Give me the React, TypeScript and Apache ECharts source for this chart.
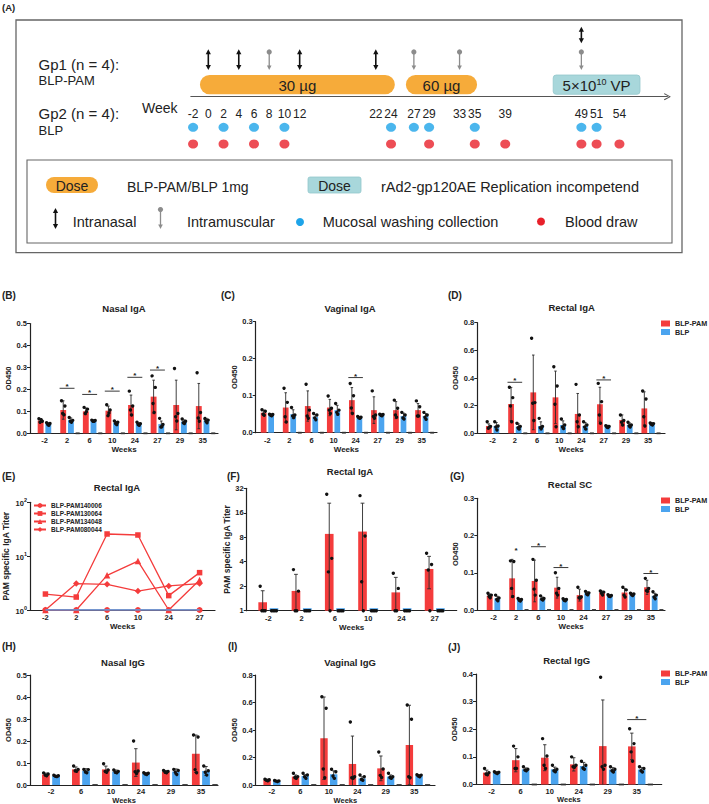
import React, { useEffect, useRef } from 'react';
import * as echarts from 'echarts';

const FONT = '"Liberation Sans", Arial, Helvetica, sans-serif';
const RED = '#f43c3c';
const BLUE = '#4ba4ef';
const INK = '#222';
const ORANGE = '#f6ab3a';
const TEAL = '#a8d7db';
const DOT_BLUE = '#1ea4e9';
const DOT_RED = '#e8202a';
const GREY_ARROW = '#8c8c8c';

// ---------------- Panel A: schedule ----------------
const timelineWeeks = [-2, 0, 2, 4, 6, 8, 10, 12, 22, 24, 27, 29, 33, 35, 39, 49, 51, 54];
const mucosalWeeks = [-2, 2, 6, 10, 24, 27, 29, 35, 49, 51];
const bloodWeeks = [-2, 2, 6, 10, 24, 29, 35, 39, 49, 51, 54];
const intranasalWeeks = [0, 4, 12, 22];
const intranasalBoostWeeks = [49];
const intramuscularWeeks = [8, 27, 33, 49];
const doseNames = ['30 µg', '60 µg', '5×10{s|10} VP'];
const doseKinds = ['protein', 'protein', 'vector'];
const doseStartWeeks = [-1.1, 25.95, 45.3];
const doseEndWeeks = [24.5, 35.3, 56.7];

// ---------------- (B) Nasal IgA ----------------
const nasalIgAWeeks = ['-2', '2', '6', '10', '24', '27', '29', '35'];
const nasalIgARedMean = [0.058, 0.106, 0.1, 0.103, 0.129, 0.167, 0.129, 0.124];
const nasalIgARedSD = [0.008, 0.042, 0.015, 0.021, 0.045, 0.075, 0.113, 0.103];
const nasalIgARedDots = [[0.066, 0.055, 0.05, 0.062], [0.148, 0.124, 0.09, 0.088], [0.118, 0.11, 0.09, 0.098], [0.13, 0.106, 0.083, 0.092], [0.192, 0.124, 0.106, 0.083], [0.265, 0.209, 0.136, 0.095], [0.295, 0.09, 0.075, 0.056], [0.276, 0.095, 0.07, 0.055]];
const nasalIgABlueMean = [0.042, 0.06, 0.057, 0.048, 0.042, 0.042, 0.053, 0.058];
const nasalIgABlueSD = [0.006, 0.01, 0.004, 0.006, 0.006, 0.014, 0.008, 0.01];
const nasalIgABlueDots = [[0.048, 0.045, 0.04, 0.036], [0.072, 0.062, 0.055, 0.05], [0.06, 0.058, 0.055, 0.055], [0.056, 0.05, 0.045, 0.042], [0.05, 0.044, 0.04, 0.036], [0.068, 0.04, 0.032, 0.03], [0.065, 0.055, 0.048, 0.045], [0.07, 0.06, 0.055, 0.048]];
const nasalIgAStarWeeks = ['2', '6', '10', '24', '27'];
const nasalIgAStarLevels = [0.205, 0.177, 0.192, 0.255, 0.288];
const nasalIgAStarLines = [true, true, true, true, true];

// ---------------- (C) Vaginal IgA ----------------
const vaginalIgAWeeks = ['-2', '2', '6', '10', '24', '27', '29', '35'];
const vaginalIgARedMean = [0.054, 0.068, 0.072, 0.068, 0.088, 0.061, 0.061, 0.061];
const vaginalIgARedSD = [0.007, 0.04, 0.041, 0.022, 0.034, 0.036, 0.023, 0.018];
const vaginalIgARedDots = [[0.062, 0.058, 0.05, 0.047], [0.12, 0.082, 0.043, 0.029], [0.131, 0.061, 0.045, 0.039], [0.099, 0.066, 0.061, 0.052], [0.133, 0.1, 0.067, 0.052], [0.113, 0.048, 0.044, 0.039], [0.088, 0.066, 0.048, 0.042], [0.086, 0.07, 0.045, 0.045]];
const vaginalIgABlueMean = [0.048, 0.05, 0.043, 0.061, 0.041, 0.048, 0.045, 0.045];
const vaginalIgABlueSD = [0.003, 0.012, 0.006, 0.013, 0.003, 0.003, 0.008, 0.007];
const vaginalIgABlueDots = [[0.05, 0.049, 0.047, 0.046], [0.068, 0.048, 0.045, 0.041], [0.052, 0.048, 0.04, 0.035], [0.079, 0.061, 0.055, 0.05], [0.044, 0.042, 0.04, 0.039], [0.05, 0.049, 0.047, 0.046], [0.055, 0.048, 0.04, 0.037], [0.055, 0.048, 0.042, 0.036]];
const vaginalIgAStarWeeks = ['24'];
const vaginalIgAStarLevels = [0.149];
const vaginalIgAStarLines = [true];

// ---------------- (D) Rectal IgA ----------------
const rectalIgAWeeks = ['-2', '2', '6', '10', '24', '27', '29', '35'];
const rectalIgARedMean = [0.053, 0.212, 0.296, 0.26, 0.14, 0.21, 0.096, 0.18];
const rectalIgARedSD = [0.015, 0.12, 0.27, 0.19, 0.148, 0.123, 0.037, 0.12];
const rectalIgARedDots = [[0.084, 0.05, 0.037, 0.042], [0.333, 0.258, 0.198, 0.084], [0.687, 0.222, 0.217, 0.092], [0.482, 0.342, 0.21, 0.048], [0.354, 0.133, 0.084, 0.048], [0.361, 0.229, 0.133, 0.072], [0.133, 0.092, 0.08, 0.06], [0.306, 0.248, 0.12, 0.053]];
const rectalIgABlueMean = [0.053, 0.048, 0.053, 0.06, 0.053, 0.048, 0.06, 0.067];
const rectalIgABlueSD = [0.025, 0.02, 0.03, 0.03, 0.025, 0.01, 0.015, 0.01];
const rectalIgABlueDots = [[0.084, 0.053, 0.045, 0.024], [0.072, 0.05, 0.04, 0.03], [0.108, 0.05, 0.04, 0.035], [0.104, 0.06, 0.045, 0.035], [0.084, 0.06, 0.045, 0.03], [0.055, 0.05, 0.045, 0.042], [0.08, 0.06, 0.055, 0.045], [0.075, 0.07, 0.065, 0.06]];
const rectalIgAStarWeeks = ['2', '27'];
const rectalIgAStarLevels = [0.369, 0.386];
const rectalIgAStarLines = [true, true];

// ---------------- (E) Rectal IgA titers per animal ----------------
const titerWeeks = ['-2', '2', '6', '10', '24', '27'];
const titerPAM140006 = [1, 1, 1, 1, 1, 1];
const titerPAM130064 = [1.98, 1.74, 25.8, 24.7, 1.85, 4.94];
const titerPAM134048 = [1, 1, 4.4, 8.1, 1, 3.6];
const titerPAM080044 = [1, 3.1, 3.0, 2.25, 2.8, 3.1];
const titerBLP = [1, 1, 1, 1, 1, 1];

// ---------------- (F) Rectal IgA titer ----------------
const titerBarWeeks = ['-2', '2', '6', '10', '24', '27'];
const titerRedMean = [1.27, 1.75, 8.8, 9.4, 1.68, 3.26];
const titerRedSD = [0.49, 1.05, 12.2, 11.6, 0.89, 1.4];
const titerRedDots = [[2, 1, 1, 1], [3.2, 1.74, 1, 1], [27, 4.4, 3, 1], [26, 8.3, 2.27, 1], [2.88, 1.88, 1, 1], [5.08, 3.7, 3.16, 1]];
const titerBlueMean = [1, 1, 1, 1, 1, 1];
const titerBlueSD = [0, 0, 0, 0, 0, 0];
const titerBlueDots = [[1, 1, 1, 1], [1, 1, 1, 1], [1, 1, 1, 1], [1, 1, 1, 1], [1, 1, 1, 1], [1, 1, 1, 1]];

// ---------------- (G) Rectal SC ----------------
const rectalSCWeeks = ['-2', '2', '6', '10', '24', '27', '29', '35'];
const rectalSCRedMean = [0.038, 0.085, 0.078, 0.06, 0.04, 0.047, 0.047, 0.061];
const rectalSCRedSD = [0.005, 0.051, 0.056, 0.028, 0.016, 0.004, 0.011, 0.019];
const rectalSCRedDots = [[0.045, 0.04, 0.037, 0.033], [0.132, 0.13, 0.058, 0.036], [0.136, 0.08, 0.056, 0.04], [0.1, 0.058, 0.045, 0.04], [0.061, 0.035, 0.033, 0.032], [0.051, 0.048, 0.045, 0.04], [0.061, 0.054, 0.04, 0.035], [0.085, 0.058, 0.052, 0.05]];
const rectalSCBlueMean = [0.031, 0.027, 0.031, 0.027, 0.045, 0.038, 0.042, 0.038];
const rectalSCBlueSD = [0.006, 0.003, 0.004, 0.003, 0.004, 0.003, 0.003, 0.007];
const rectalSCBlueDots = [[0.04, 0.032, 0.028, 0.025], [0.031, 0.028, 0.026, 0.024], [0.038, 0.031, 0.029, 0.027], [0.03, 0.028, 0.026, 0.025], [0.05, 0.046, 0.043, 0.041], [0.041, 0.039, 0.037, 0.036], [0.045, 0.043, 0.041, 0.039], [0.049, 0.04, 0.035, 0.03]];
const rectalSCStarWeeks = ['2', '6', '10', '35'];
const rectalSCStarLevels = [0.157, 0.17, 0.114, 0.098];
const rectalSCStarLines = [false, true, true, true];

// ---------------- (H) Nasal IgG ----------------
const nasalIgGWeeks = ['-2', '6', '10', '24', '29', '35'];
const nasalIgGRedMean = [0.048, 0.071, 0.071, 0.102, 0.061, 0.142];
const nasalIgGRedSD = [0.006, 0.011, 0.015, 0.063, 0.005, 0.085];
const nasalIgGRedDots = [[0.055, 0.05, 0.045, 0.042], [0.086, 0.071, 0.065, 0.062], [0.097, 0.068, 0.062, 0.058], [0.2, 0.064, 0.06, 0.052], [0.066, 0.062, 0.058, 0.056], [0.227, 0.218, 0.07, 0.056]];
const nasalIgGBlueMean = [0.041, 0.064, 0.061, 0.052, 0.061, 0.064];
const nasalIgGBlueSD = [0.003, 0.01, 0.007, 0.004, 0.012, 0.02];
const nasalIgGBlueDots = [[0.044, 0.042, 0.04, 0.038], [0.071, 0.07, 0.06, 0.056], [0.068, 0.062, 0.058, 0.055], [0.056, 0.053, 0.05, 0.048], [0.071, 0.066, 0.058, 0.048], [0.086, 0.065, 0.058, 0.045]];

// ---------------- (I) Vaginal IgG ----------------
const vaginalIgGWeeks = ['-2', '6', '10', '24', '29', '35'];
const vaginalIgGRedMean = [0.036, 0.061, 0.34, 0.153, 0.121, 0.291];
const vaginalIgGRedSD = [0.006, 0.012, 0.3, 0.203, 0.09, 0.289];
const vaginalIgGRedDots = [[0.042, 0.038, 0.035, 0.03], [0.085, 0.061, 0.055, 0.048], [0.642, 0.558, 0.116, 0.053], [0.458, 0.06, 0.053, 0.048], [0.24, 0.116, 0.07, 0.055], [0.582, 0.478, 0.06, 0.053]];
const vaginalIgGBlueMean = [0.029, 0.065, 0.078, 0.048, 0.061, 0.068];
const vaginalIgGBlueSD = [0.004, 0.01, 0.025, 0.012, 0.012, 0.008];
const vaginalIgGBlueDots = [[0.033, 0.03, 0.028, 0.026], [0.085, 0.073, 0.06, 0.048], [0.114, 0.097, 0.065, 0.048], [0.073, 0.06, 0.04, 0.035], [0.085, 0.06, 0.055, 0.048], [0.075, 0.072, 0.065, 0.06]];

// ---------------- (J) Rectal IgG ----------------
const rectalIgGWeeks = ['-2', '6', '10', '24', '29', '35'];
const rectalIgGRedMean = [0.043, 0.088, 0.097, 0.073, 0.139, 0.138];
const rectalIgGRedSD = [0.009, 0.042, 0.047, 0.024, 0.167, 0.048];
const rectalIgGRedDots = [[0.058, 0.043, 0.038, 0.035], [0.139, 0.1, 0.058, 0.058], [0.166, 0.103, 0.07, 0.058], [0.1, 0.07, 0.064, 0.062], [0.388, 0.07, 0.064, 0.055], [0.202, 0.148, 0.118, 0.084]];
const rectalIgGBlueMean = [0.043, 0.055, 0.055, 0.067, 0.054, 0.054];
const rectalIgGBlueSD = [0.003, 0.005, 0.008, 0.013, 0.007, 0.007];
const rectalIgGBlueDots = [[0.046, 0.044, 0.042, 0.04], [0.064, 0.055, 0.052, 0.05], [0.07, 0.055, 0.05, 0.046], [0.084, 0.07, 0.06, 0.055], [0.064, 0.055, 0.05, 0.045], [0.064, 0.058, 0.05, 0.045]];
const rectalIgGStarWeeks = ['35'];
const rectalIgGStarLevels = [0.235];
const rectalIgGStarLines = [true];

// ---------------- layout constants (pixels / row positions) ----------------
const ROW_BLUE = -3.06;
const ROW_RED = -4.73;
const ARROW_LOW = 2.67;
const ARROW_HIGH = 4.74;
const BOOST_LOW = 5.34;
const BOOST_HIGH = 7.0;
const DOSE_LOW = 0.24;
const DOSE_HIGH = 2.17;
const CHEVRON = 'path://M0,9L5,0L10,9L8.8,10L5,2.6L1.2,10Z';
const DOT_OFFSETS = [-0.075, 0.075, -0.025, 0.025];

const lbl = { fontSize: 7.5, fontWeight: 'bold', color: INK, fontFamily: FONT };

function doubleArrow(x: number, yTop: number, yBot: number, color: string) {
  const hw = 2.6, hl = 5;
  return {
    type: 'group',
    children: [
      { type: 'line', shape: { x1: x, y1: yTop + hl - 1, x2: x, y2: yBot - hl + 1 }, style: { stroke: color, lineWidth: 1.6 } },
      { type: 'polygon', shape: { points: [[x, yTop], [x - hw, yTop + hl], [x + hw, yTop + hl]] }, style: { fill: color } },
      { type: 'polygon', shape: { points: [[x, yBot], [x - hw, yBot - hl], [x + hw, yBot - hl]] }, style: { fill: color } },
    ],
  };
}
function imArrow(x: number, yTop: number, yBot: number, color: string) {
  const hw = 2.3, hl = 4.5, r = 2.6;
  return {
    type: 'group',
    children: [
      { type: 'line', shape: { x1: x, y1: yTop + r, x2: x, y2: yBot - hl + 1 }, style: { stroke: color, lineWidth: 1.3 } },
      { type: 'circle', shape: { cx: x, cy: yTop + r, r }, style: { fill: color } },
      { type: 'polygon', shape: { points: [[x, yBot], [x - hw, yBot - hl], [x + hw, yBot - hl]] }, style: { fill: color } },
    ],
  };
}

function barRender(isRed: boolean, base: number, minH: number, dash: boolean) {
  const L = isRed ? -0.3 : 0.04;
  const R = isRed ? -0.04 : 0.3;
  const C = (L + R) / 2;
  const fill = isRed ? RED : BLUE;
  return (params: any, api: any) => {
    const i = api.value(0), m = api.value(1), sd = api.value(2);
    const pb = api.coord([i + L, base]);
    const pt = api.coord([i + R, m]);
    const w = pt[0] - pb[0];
    const h = Math.max(pb[1] - pt[1], minH);
    const children: any[] = [{ type: 'rect', shape: { x: pb[0], y: pb[1] - h, width: w, height: h }, style: { fill } }];
    const cx = (pb[0] + pt[0]) / 2;
    const ln = { stroke: '#2b2b2b', lineWidth: 0.9 };
    if (sd > 0) {
      const ty = api.coord([i, m + sd])[1];
      const low = m - sd;
      const by = low > base ? api.coord([i, low])[1] : pb[1];
      const cw = w * 0.22;
      children.push({ type: 'line', shape: { x1: cx, y1: ty, x2: cx, y2: by }, style: ln });
      children.push({ type: 'line', shape: { x1: cx - cw, y1: ty, x2: cx + cw, y2: ty }, style: ln });
      if (low > base) children.push({ type: 'line', shape: { x1: cx - cw, y1: by, x2: cx + cw, y2: by }, style: ln });
    }
    for (let k = 0; k < 4; k++) {
      const v = api.value(3 + k);
      if (v == null || isNaN(v)) continue;
      const p = api.coord([i + C + DOT_OFFSETS[k], v]);
      children.push({ type: 'circle', shape: { cx: p[0], cy: p[1], r: 1.7 }, style: { fill: '#111' } });
    }
    if (dash && !isRed && i > 0) {
      const a = api.coord([i + 0.38, base]);
      const b = api.coord([i + 0.56, base]);
      children.push({ type: 'line', shape: { x1: a[0], y1: a[1], x2: b[0], y2: b[1] }, style: { stroke: '#333', lineWidth: 1.8 } });
    }
    return { type: 'group', children };
  };
}

function starRender(params: any, api: any) {
  const i = api.value(0), lvl = api.value(1), line = api.value(2);
  const a = api.coord([i - 0.33, lvl]);
  const b = api.coord([i + 0.33, lvl]);
  const c = api.coord([i, lvl]);
  const ch: any[] = [];
  if (line) ch.push({ type: 'line', shape: { x1: a[0], y1: a[1], x2: b[0], y2: b[1] }, style: { stroke: '#222', lineWidth: 0.9 } });
  ch.push({ type: 'text', x: c[0], y: c[1] + 2.5, style: { text: '*', fontSize: 8, fontWeight: 'bold', fontFamily: FONT, fill: '#222', align: 'center', verticalAlign: 'bottom' } });
  return { type: 'group', children: ch };
}

function buildOption() {
  const grids: any[] = [];
  const xAxes: any[] = [];
  const yAxes: any[] = [];
  const series: any[] = [];

  // ---- timeline (panel A) ----
  grids.push({ left: 190.8, top: 25.7, width: 476.6, height: 71, containLabel: false, outerBoundsMode: 'none' });
  xAxes.push({
    type: 'value', gridIndex: 0, min: -2.3, max: 60.3,
    axisLine: { show: true, onZero: false, lineStyle: { color: '#555', width: 1 }, symbol: ['none', CHEVRON], symbolSize: [8, 7] },
    axisTick: { show: false }, splitLine: { show: false },
    axisLabel: { customValues: timelineWeeks, formatter: (v: number) => String(v), fontSize: 12, color: INK, margin: 11.5, fontFamily: FONT },
  });
  yAxes.push({ type: 'value', gridIndex: 0, min: 0, max: 7.1, show: false });
  series.push({
    type: 'custom', name: 'dose', xAxisIndex: 0, yAxisIndex: 0, silent: true,
    data: doseStartWeeks.map((s, i) => [s, DOSE_LOW, doseEndWeeks[i], i]),
    renderItem: (params: any, api: any) => {
      const idx = params.dataIndex;
      const p0 = api.coord([api.value(0), DOSE_HIGH]);
      const p1 = api.coord([api.value(2), DOSE_LOW]);
      const h = p1[1] - p0[1];
      const vec = doseKinds[idx] === 'vector';
      return {
        type: 'group',
        children: [
          { type: 'rect', shape: { x: p0[0], y: p0[1], width: p1[0] - p0[0], height: h, r: vec ? 3 : h / 2 }, style: { fill: vec ? TEAL : ORANGE, stroke: vec ? '#93c6cb' : null, lineWidth: 0.8 } },
          {
            type: 'text', x: (p0[0] + p1[0]) / 2, y: p0[1] + h / 2 + 0.5,
            style: { text: doseNames[idx], fontSize: 15, fontFamily: FONT, fill: '#222', align: 'center', verticalAlign: 'middle', rich: { s: { fontSize: 9, fontFamily: FONT, fill: '#222', verticalAlign: 'top' } } },
          },
        ],
      };
    },
  });
  series.push({
    type: 'custom', name: 'intranasal', xAxisIndex: 0, yAxisIndex: 0, silent: true,
    data: intranasalWeeks.map((w) => [w, ARROW_LOW]),
    renderItem: (params: any, api: any) => {
      const t = api.coord([api.value(0), ARROW_HIGH]);
      const b = api.coord([api.value(0), ARROW_LOW]);
      return doubleArrow(t[0], t[1], b[1], '#111');
    },
  });
  series.push({
    type: 'custom', name: 'intranasal boost', xAxisIndex: 0, yAxisIndex: 0, silent: true,
    data: intranasalBoostWeeks.map((w) => [w, BOOST_LOW]),
    renderItem: (params: any, api: any) => {
      const t = api.coord([api.value(0), BOOST_HIGH]);
      const b = api.coord([api.value(0), BOOST_LOW]);
      return doubleArrow(t[0], t[1], b[1], '#111');
    },
  });
  series.push({
    type: 'custom', name: 'intramuscular', xAxisIndex: 0, yAxisIndex: 0, silent: true,
    data: intramuscularWeeks.map((w) => [w, ARROW_LOW]),
    renderItem: (params: any, api: any) => {
      const t = api.coord([api.value(0), ARROW_HIGH]);
      const b = api.coord([api.value(0), ARROW_LOW]);
      return imArrow(t[0], t[1], b[1], GREY_ARROW);
    },
  });
  series.push({ type: 'scatter', name: 'Mucosal washing collection', xAxisIndex: 0, yAxisIndex: 0, clip: false, silent: true, symbol: 'circle', symbolSize: [10, 9], itemStyle: { color: DOT_BLUE }, data: mucosalWeeks.map((w) => [w, ROW_BLUE]) });
  series.push({ type: 'scatter', name: 'Blood draw', xAxisIndex: 0, yAxisIndex: 0, clip: false, silent: true, symbol: 'circle', symbolSize: [10, 9], itemStyle: { color: DOT_RED }, data: bloodWeeks.map((w) => [w, ROW_RED]) });

  // ---- bar panels ----
  const panels = [
    { weeks: nasalIgAWeeks, rm: nasalIgARedMean, rs: nasalIgARedSD, rd: nasalIgARedDots, bm: nasalIgABlueMean, bs: nasalIgABlueSD, bd: nasalIgABlueDots, sw: nasalIgAStarWeeks, sl: nasalIgAStarLevels, sn: nasalIgAStarLines, grid: { left: 30, top: 323.5, width: 188, height: 109.8 }, xMin: -0.64, xMax: 7.68, yMax: 0.5, yInt: 0.1, log2: false, dash: true, bottomRow: false },
    { weeks: vaginalIgAWeeks, rm: vaginalIgARedMean, rs: vaginalIgARedSD, rd: vaginalIgARedDots, bm: vaginalIgABlueMean, bs: vaginalIgABlueSD, bd: vaginalIgABlueDots, sw: vaginalIgAStarWeeks, sl: vaginalIgAStarLevels, sn: vaginalIgAStarLines, grid: { left: 255.7, top: 321.7, width: 181.3, height: 111 }, xMin: -0.53, xMax: 7.69, yMax: 0.3, yInt: 0.1, log2: false, dash: true, bottomRow: false },
    { weeks: rectalIgAWeeks, rm: rectalIgARedMean, rs: rectalIgARedSD, rd: rectalIgARedDots, bm: rectalIgABlueMean, bs: rectalIgABlueSD, bd: rectalIgABlueDots, sw: rectalIgAStarWeeks, sl: rectalIgAStarLevels, sn: rectalIgAStarLines, grid: { left: 477.3, top: 322.7, width: 187.7, height: 110.6 }, xMin: -0.69, xMax: 7.76, yMax: 0.8, yInt: 0.2, log2: false, dash: true, bottomRow: false },
    { weeks: titerBarWeeks, rm: titerRedMean, rs: titerRedSD, rd: titerRedDots, bm: titerBlueMean, bs: titerBlueSD, bd: titerBlueDots, sw: [], sl: [], sn: [], grid: { left: 246.7, top: 488.3, width: 210, height: 122.4 }, xMin: -0.65, xMax: 5.66, yMax: 32, yInt: 0, log2: true, dash: false, bottomRow: false },
    { weeks: rectalSCWeeks, rm: rectalSCRedMean, rs: rectalSCRedSD, rd: rectalSCRedDots, bm: rectalSCBlueMean, bs: rectalSCBlueSD, bd: rectalSCBlueDots, sw: rectalSCStarWeeks, sl: rectalSCStarLevels, sn: rectalSCStarLines, grid: { left: 477.3, top: 498.3, width: 187.7, height: 111.7 }, xMin: -0.72, xMax: 7.63, yMax: 0.3, yInt: 0.1, log2: false, dash: true, bottomRow: false },
    { weeks: nasalIgGWeeks, rm: nasalIgGRedMean, rs: nasalIgGRedSD, rd: nasalIgGRedDots, bm: nasalIgGBlueMean, bs: nasalIgGBlueSD, bd: nasalIgGBlueDots, sw: [], sl: [], sn: [], grid: { left: 30, top: 675, width: 188, height: 110 }, xMin: -0.7, xMax: 5.57, yMax: 0.5, yInt: 0.1, log2: false, dash: true, bottomRow: true },
    { weeks: vaginalIgGWeeks, rm: vaginalIgGRedMean, rs: vaginalIgGRedSD, rd: vaginalIgGRedDots, bm: vaginalIgGBlueMean, bs: vaginalIgGBlueSD, bd: vaginalIgGBlueDots, sw: [], sl: [], sn: [], grid: { left: 255.7, top: 675, width: 179.3, height: 110 }, xMin: -0.57, xMax: 5.73, yMax: 0.8, yInt: 0.2, log2: false, dash: true, bottomRow: true },
    { weeks: rectalIgGWeeks, rm: rectalIgGRedMean, rs: rectalIgGRedSD, rd: rectalIgGRedDots, bm: rectalIgGBlueMean, bs: rectalIgGBlueSD, bd: rectalIgGBlueDots, sw: rectalIgGStarWeeks, sl: rectalIgGStarLevels, sn: rectalIgGStarLines, grid: { left: 476, top: 674, width: 185.7, height: 110.5 }, xMin: -0.54, xMax: 5.86, yMax: 0.4, yInt: 0.1, log2: false, dash: true, bottomRow: true },
  ];

  panels.forEach((P: any) => {
    const gi = grids.length;
    grids.push({ ...P.grid, containLabel: false, outerBoundsMode: 'none' });
    const weeks: string[] = P.weeks;
    xAxes.push({
      type: 'value', gridIndex: gi, min: P.xMin, max: P.xMax,
      axisLine: { show: true, onZero: false, lineStyle: { color: INK, width: 1.2 } },
      axisTick: { show: false }, splitLine: { show: false },
      axisLabel: { ...lbl, margin: P.bottomRow ? 2.5 : 3.5, customValues: weeks.map((_, i) => i), formatter: (v: number) => weeks[Math.round(v)] ?? '' },
      name: 'Weeks', nameLocation: 'middle', nameGap: P.bottomRow ? 5.5 : 10, nameTextStyle: { ...lbl, fontSize: P.bottomRow ? 7.5 : 8, lineHeight: 8 },
    });
    const yName = P.log2 ? 'PAM specific IgA Titer' : 'OD450';
    yAxes.push(P.log2 ? {
      type: 'log', logBase: 2, gridIndex: gi, min: 1, max: 32, splitNumber: 5,
      axisLine: { show: true, onZero: false, lineStyle: { color: INK, width: 1.2 } },
      axisTick: { show: true, length: 3, lineStyle: { color: INK, width: 1 } }, splitLine: { show: false }, minorTick: { show: false },
      axisLabel: { ...lbl, margin: 3, formatter: (v: number) => String(Math.round(v)) },
      name: yName, nameLocation: 'middle', nameGap: 13, nameRotate: 90, nameTextStyle: { ...lbl, fontSize: 8.5 },
    } : {
      type: 'value', gridIndex: gi, min: 0, max: P.yMax, interval: P.yInt,
      axisLine: { show: true, onZero: false, lineStyle: { color: INK, width: 1.2 } },
      axisTick: { show: true, length: 3, lineStyle: { color: INK, width: 1 } }, splitLine: { show: false },
      axisLabel: { ...lbl, margin: 3, formatter: (v: number) => v.toFixed(1) },
      name: yName, nameLocation: 'middle', nameGap: 17, nameRotate: 90, nameTextStyle: { ...lbl },
    });
    const base = P.log2 ? 1 : 0;
    const minH = P.log2 ? 2.5 : 0;
    series.push({
      type: 'custom', name: 'BLP-PAM', xAxisIndex: gi, yAxisIndex: gi, itemStyle: { color: RED }, silent: true,
      encode: { x: 0, y: 1 },
      data: P.rm.map((m: number, i: number) => [i, m, P.rs[i], ...P.rd[i]]),
      renderItem: barRender(true, base, minH, P.dash),
    });
    series.push({
      type: 'custom', name: 'BLP', xAxisIndex: gi, yAxisIndex: gi, itemStyle: { color: BLUE }, silent: true,
      encode: { x: 0, y: 1 },
      data: P.bm.map((m: number, i: number) => [i, m, P.bs[i], ...P.bd[i]]),
      renderItem: barRender(false, base, minH, P.dash),
    });
    if (P.sw.length) {
      series.push({
        type: 'custom', name: 'significance', xAxisIndex: gi, yAxisIndex: gi, silent: true,
        encode: { x: 0, y: 1 },
        data: P.sw.map((w: string, j: number) => [weeks.indexOf(w), P.sl[j], P.sn[j] ? 1 : 0]),
        renderItem: starRender,
      });
    }
  });

  // ---- panel E: line chart ----
  const ge = grids.length;
  grids.push({ left: 30, top: 502.3, width: 185, height: 107.7, containLabel: false, outerBoundsMode: 'none' });
  xAxes.push({
    type: 'category', gridIndex: ge, data: titerWeeks, boundaryGap: true,
    axisLine: { show: true, onZero: false, lineStyle: { color: INK, width: 1.2 } },
    axisTick: { show: false }, splitLine: { show: false },
    axisLabel: { ...lbl, margin: 3.5 },
    name: 'Weeks', nameLocation: 'middle', nameGap: 10, nameTextStyle: { ...lbl, fontSize: 8 },
  });
  yAxes.push({
    type: 'log', logBase: 10, gridIndex: ge, min: 1, max: 100,
    axisLine: { show: true, onZero: false, lineStyle: { color: INK, width: 1.2 } },
    axisTick: { show: true, length: 3, lineStyle: { color: INK, width: 1 } }, splitLine: { show: false },
    axisLabel: {
      margin: 3,
      formatter: (v: number) => '{b|10}{s|' + Math.round(Math.log10(v)) + '}',
      rich: {
        b: { fontSize: 7.5, fontWeight: 'bold', color: INK, fontFamily: FONT, lineHeight: 11, verticalAlign: 'bottom' },
        s: { fontSize: 5.5, fontWeight: 'bold', color: INK, fontFamily: FONT, lineHeight: 11, verticalAlign: 'top' },
      },
    },
    name: 'PAM specific IgA Titer', nameLocation: 'middle', nameGap: 20, nameRotate: 90, nameTextStyle: { ...lbl, fontSize: 8.5 },
  });
  const lineS = (name: string, data: number[], symbol: string, size: number) => ({
    type: 'line', name, xAxisIndex: ge, yAxisIndex: ge, data, symbol, symbolSize: size, silent: true,
    lineStyle: { color: RED, width: 1.3 }, itemStyle: { color: RED }, z: 3,
  });
  series.push(lineS('BLP-PAM140006', titerPAM140006, 'circle', 6));
  series.push(lineS('BLP-PAM130064', titerPAM130064, 'rect', 5.5));
  series.push(lineS('BLP-PAM134048', titerPAM134048, 'triangle', 6.5));
  series.push(lineS('BLP-PAM080044', titerPAM080044, 'diamond', 6.5));
  series.push({ type: 'line', name: 'BLP group', xAxisIndex: ge, yAxisIndex: ge, data: titerBLP, symbol: 'none', silent: true, lineStyle: { color: BLUE, width: 1.3 }, z: 4 });

  const legendText = { fontSize: 7.2, fontWeight: 'bold', color: INK, fontFamily: FONT };
  const barLegend = (top: number) => ({
    data: [{ name: 'BLP-PAM', icon: 'rect' }, { name: 'BLP', icon: 'rect' }],
    orient: 'vertical', left: 661, top, itemWidth: 9, itemHeight: 6, itemGap: 1.5, itemTextGap: 3, padding: 0,
    selectedMode: false, textStyle: legendText,
  });
  const legends = [
    barLegend(320), barLegend(497), barLegend(670),
    {
      data: ['BLP-PAM140006', 'BLP-PAM130064', 'BLP-PAM134048', 'BLP-PAM080044'],
      orient: 'vertical', left: 33, top: 502, itemWidth: 12, itemHeight: 6, itemGap: 1, padding: 0,
      selectedMode: false, textStyle: { ...legendText, fontSize: 6.5 },
    },
  ];

  // ---- static graphic: panel A frame/legend, titles, panel letters ----
  const txt = (text: string, x: number, y: number, size: number, opts: any = {}) => ({
    type: 'text', x, y, silent: true,
    style: { text, fontSize: size, fontFamily: FONT, fill: INK, align: opts.align || 'left', verticalAlign: 'middle', fontWeight: opts.weight || 'normal' },
  });
  const graphic: any[] = [
    { type: 'rect', silent: true, shape: { x: 16, y: 20, width: 666, height: 232.7 }, style: { fill: 'none', stroke: '#666', lineWidth: 1.3 } },
    { type: 'rect', silent: true, shape: { x: 27, y: 160, width: 645, height: 83 }, style: { fill: 'none', stroke: '#666', lineWidth: 1.1 } },
    txt('(A)', 2, 7.5, 9.5, { weight: 'bold' }),
    txt('Gp1 (n = 4):', 38.6, 64, 15),
    txt('BLP-PAM', 38.6, 80.5, 13),
    txt('Gp2 (n = 4):', 38.6, 113, 15),
    txt('BLP', 38.6, 130.5, 13),
    txt('Week', 142, 107.5, 14),
    { type: 'rect', silent: true, shape: { x: 46, y: 177, width: 52, height: 16, r: 8 }, style: { fill: ORANGE } },
    txt('Dose', 72, 185.5, 14, { align: 'center' }),
    txt('BLP-PAM/BLP 1mg', 127, 187, 14),
    { type: 'rect', silent: true, shape: { x: 308, y: 177, width: 53, height: 16, r: 2 }, style: { fill: TEAL, stroke: '#93c6cb', lineWidth: 0.8 } },
    txt('Dose', 334.5, 185.5, 14, { align: 'center' }),
    txt('rAd2-gp120AE Replication incompetend', 381, 187, 14.5),
    { ...doubleArrow(55.5, 208, 229, '#111'), silent: true },
    txt('Intranasal', 72.7, 221.5, 14.5),
    { ...imArrow(160.5, 207, 229, GREY_ARROW), silent: true },
    txt('Intramuscular', 187, 221.5, 14.5),
    { type: 'circle', silent: true, shape: { cx: 300, cy: 222, r: 4 }, style: { fill: DOT_BLUE } },
    txt('Mucosal washing collection', 322.7, 221.5, 14.5),
    { type: 'circle', silent: true, shape: { cx: 541, cy: 221.5, r: 4 }, style: { fill: DOT_RED } },
    txt('Blood draw', 565, 221.5, 14.5),
    // panel letters
    txt('(B)', 2, 295, 10, { weight: 'bold' }),
    txt('(C)', 221, 295, 10, { weight: 'bold' }),
    txt('(D)', 448, 295, 10, { weight: 'bold' }),
    txt('(E)', 2, 476.5, 10, { weight: 'bold' }),
    txt('(F)', 227, 476.5, 10, { weight: 'bold' }),
    txt('(G)', 450, 476.5, 10, { weight: 'bold' }),
    txt('(H)', 2, 646.5, 10, { weight: 'bold' }),
    txt('(I)', 228, 646.5, 10, { weight: 'bold' }),
    txt('(J)', 448, 647, 10, { weight: 'bold' }),
    // panel titles
    txt('Nasal IgA', 124, 308, 9.5, { align: 'center', weight: 'bold' }),
    txt('Vaginal IgA', 350, 308, 9.5, { align: 'center', weight: 'bold' }),
    txt('Rectal IgA', 571.7, 307, 9.5, { align: 'center', weight: 'bold' }),
    txt('Rectal IgA', 117, 487, 9.5, { align: 'center', weight: 'bold' }),
    txt('Rectal IgA', 350, 471, 9.5, { align: 'center', weight: 'bold' }),
    txt('Rectal SC', 570, 484, 9.5, { align: 'center', weight: 'bold' }),
    txt('Nasal IgG', 123, 662, 9.5, { align: 'center', weight: 'bold' }),
    txt('Vaginal IgG', 350, 662, 9.5, { align: 'center', weight: 'bold' }),
    txt('Rectal IgG', 566.7, 660, 9.5, { align: 'center', weight: 'bold' }),
  ];

  return {
    animation: false,
    backgroundColor: '#ffffff',
    textStyle: { fontFamily: FONT },
    grid: grids,
    xAxis: xAxes,
    yAxis: yAxes,
    legend: legends,
    series,
    graphic,
  };
}

export default function App() {
  const ref = useRef<HTMLDivElement>(null);
  useEffect(() => {
    if (!ref.current) return;
    const chart = echarts.init(ref.current, null, { renderer: 'svg' });
    chart.setOption(buildOption() as any);
    return () => chart.dispose();
  }, []);
  return <div ref={ref} style={{ position: 'absolute', left: 0, top: 0, width: 709, height: 804, background: '#fff' }} />;
}
